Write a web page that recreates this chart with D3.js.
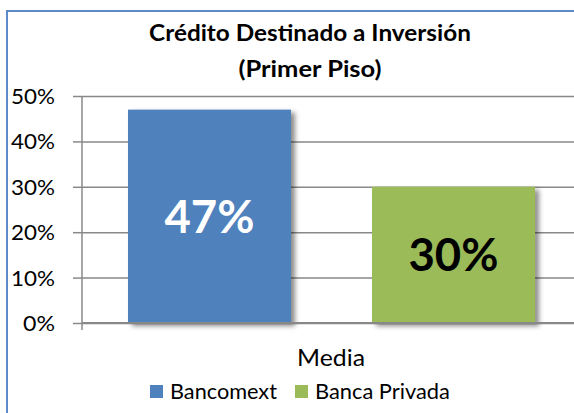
<!DOCTYPE html>
<html>
<head>
<meta charset="utf-8">
<script src="https://cdn.jsdelivr.net/npm/d3@7"></script>
<style>
  html, body { margin: 0; padding: 0; background: #ffffff; }
  svg { display: block; font-family: Lato, "Open Sans", sans-serif; }
</style>
</head>
<body>
<svg id="chart" width="574" height="413"></svg>
<script>
// ---- data ----
const titleLines = ["Crédito Destinado a Inversión", "(Primer Piso)"];
const categories = ["Media"];
const seriesNames = ["Bancomext", "Banca Privada"];
const seriesValues = [0.47, 0.30];
const seriesColors = ["#4f81bd", "#9bbb59"];
const labelColors = ["#ffffff", "#000000"];
const yTicks = [0, 0.1, 0.2, 0.3, 0.4, 0.5];

const svg = d3.select("#chart");
const pct = d3.format(".0%");

// drop shadow for bars
const defs = svg.append("defs");
const f = defs.append("filter").attr("id", "shadow")
  .attr("x", "-10%").attr("y", "-10%").attr("width", "130%").attr("height", "130%");
f.append("feDropShadow").attr("dx", 4).attr("dy", 3).attr("stdDeviation", 2.5)
  .attr("flood-color", "#000").attr("flood-opacity", 0.45);

// chart border (cropped on the right/bottom)
svg.append("rect").attr("x", 7).attr("y", 11).attr("width", 640).attr("height", 480)
  .attr("fill", "#fff").attr("stroke", "#5b8bc9").attr("stroke-width", 2);

// stretch text horizontally to a target width, keeping its anchor point
function fitText(node, target) {
  const w = node.getComputedTextLength();
  const sx = target / w;
  const x = +node.getAttribute("x") || 0, y = +node.getAttribute("y") || 0;
  node.setAttribute("transform", `translate(${x},${y}) scale(${sx},1) translate(${-x},${-y})`);
}

// scales
const x0 = d3.scaleBand().domain(categories).range([82, 581]);
const x1 = d3.scaleBand().domain(seriesNames).range([0, x0.bandwidth()])
  .paddingInner(0.332).paddingOuter(0.1885);
const y = d3.scaleLinear().domain([0, 0.5]).range([323, 96]);

// gridlines
svg.append("g").attr("transform", "translate(82,0)")
  .call(d3.axisLeft(y).tickValues(yTicks).tickSize(-520).tickFormat(""))
  .call(g => g.select(".domain").remove())
  .call(g => g.selectAll("line").attr("stroke", "#888888").attr("stroke-width", 1.5));

// y axis with ticks and labels
const yAxis = svg.append("g").attr("transform", "translate(82,0)")
  .call(d3.axisLeft(y).tickValues(yTicks).tickSize(9).tickSizeOuter(0).tickPadding(18)
    .tickFormat(pct));
yAxis.select(".domain").attr("stroke", "#888888").attr("stroke-width", 1.5)
  .attr("d", `M0,${y(0.5)}V${y(0) + 7}`);
yAxis.selectAll("line").attr("stroke", "#888888").attr("stroke-width", 1.5);
const tickTexts = yAxis.selectAll("text").attr("font-size", 21).attr("fill", "#000")
  .attr("font-family", "Lato, sans-serif").attr("dy", "0.36em");
tickTexts.each(function(d) { fitText(this, pct(d).length === 3 ? 44 : 32); });

// bars
const groups = svg.append("g").selectAll("g").data(categories).join("g")
  .attr("transform", d => `translate(${x0(d)},0)`);
const barData = seriesNames.map((s, i) => ({ s, v: seriesValues[i], c: seriesColors[i], lc: labelColors[i] }));
groups.selectAll("rect").data(barData).join("rect")
  .attr("x", d => x1(d.s)).attr("width", x1.bandwidth())
  .attr("y", d => y(d.v)).attr("height", d => y(0) - y(d.v))
  .attr("fill", d => d.c).attr("filter", "url(#shadow)");

// baseline on top of bars
svg.append("line").attr("x1", 82).attr("x2", 581).attr("y1", y(0)).attr("y2", y(0))
  .attr("stroke", "#888888").attr("stroke-width", 2);

// data labels
groups.selectAll("text.dl").data(barData).join("text").attr("class", "dl")
  .attr("x", d => x1(d.s) + x1.bandwidth() / 2)
  .attr("y", d => (y(d.v) + y(0)) / 2)
  .attr("dy", "0.36em")
  .attr("text-anchor", "middle")
  .attr("font-size", 46).attr("font-weight", 700)
  .attr("fill", d => d.lc)
  .text(d => pct(d.v))
  .each(function() { fitText(this, 90); });

// title
const titleWidths = [322, 143];
svg.append("g").selectAll("text").data(titleLines).join("text")
  .attr("x", 310).attr("y", (d, i) => 41 + i * 36)
  .attr("text-anchor", "middle").attr("font-size", 23.5).attr("font-weight", 700)
  .text(d => d)
  .each(function(d, i) { fitText(this, titleWidths[i]); });

// category label
svg.append("text").attr("x", 331).attr("y", 366).attr("text-anchor", "middle")
  .attr("font-size", 24).text(categories[0])
  .each(function() { fitText(this, 68); });

// legend
const legendX = [150, 295];
const legendW = [107, 135];
const leg = svg.append("g").selectAll("g").data(seriesNames).join("g")
  .attr("transform", (d, i) => `translate(${legendX[i]},0)`);
leg.append("rect").attr("x", 0).attr("y", 385).attr("width", 13).attr("height", 13)
  .attr("fill", (d, i) => seriesColors[i]);
leg.append("text").attr("x", 20).attr("y", 399).attr("font-size", 21.5)
  .text(d => d)
  .each(function(d, i) { fitText(this, legendW[i]); });
</script>
</body>
</html>
